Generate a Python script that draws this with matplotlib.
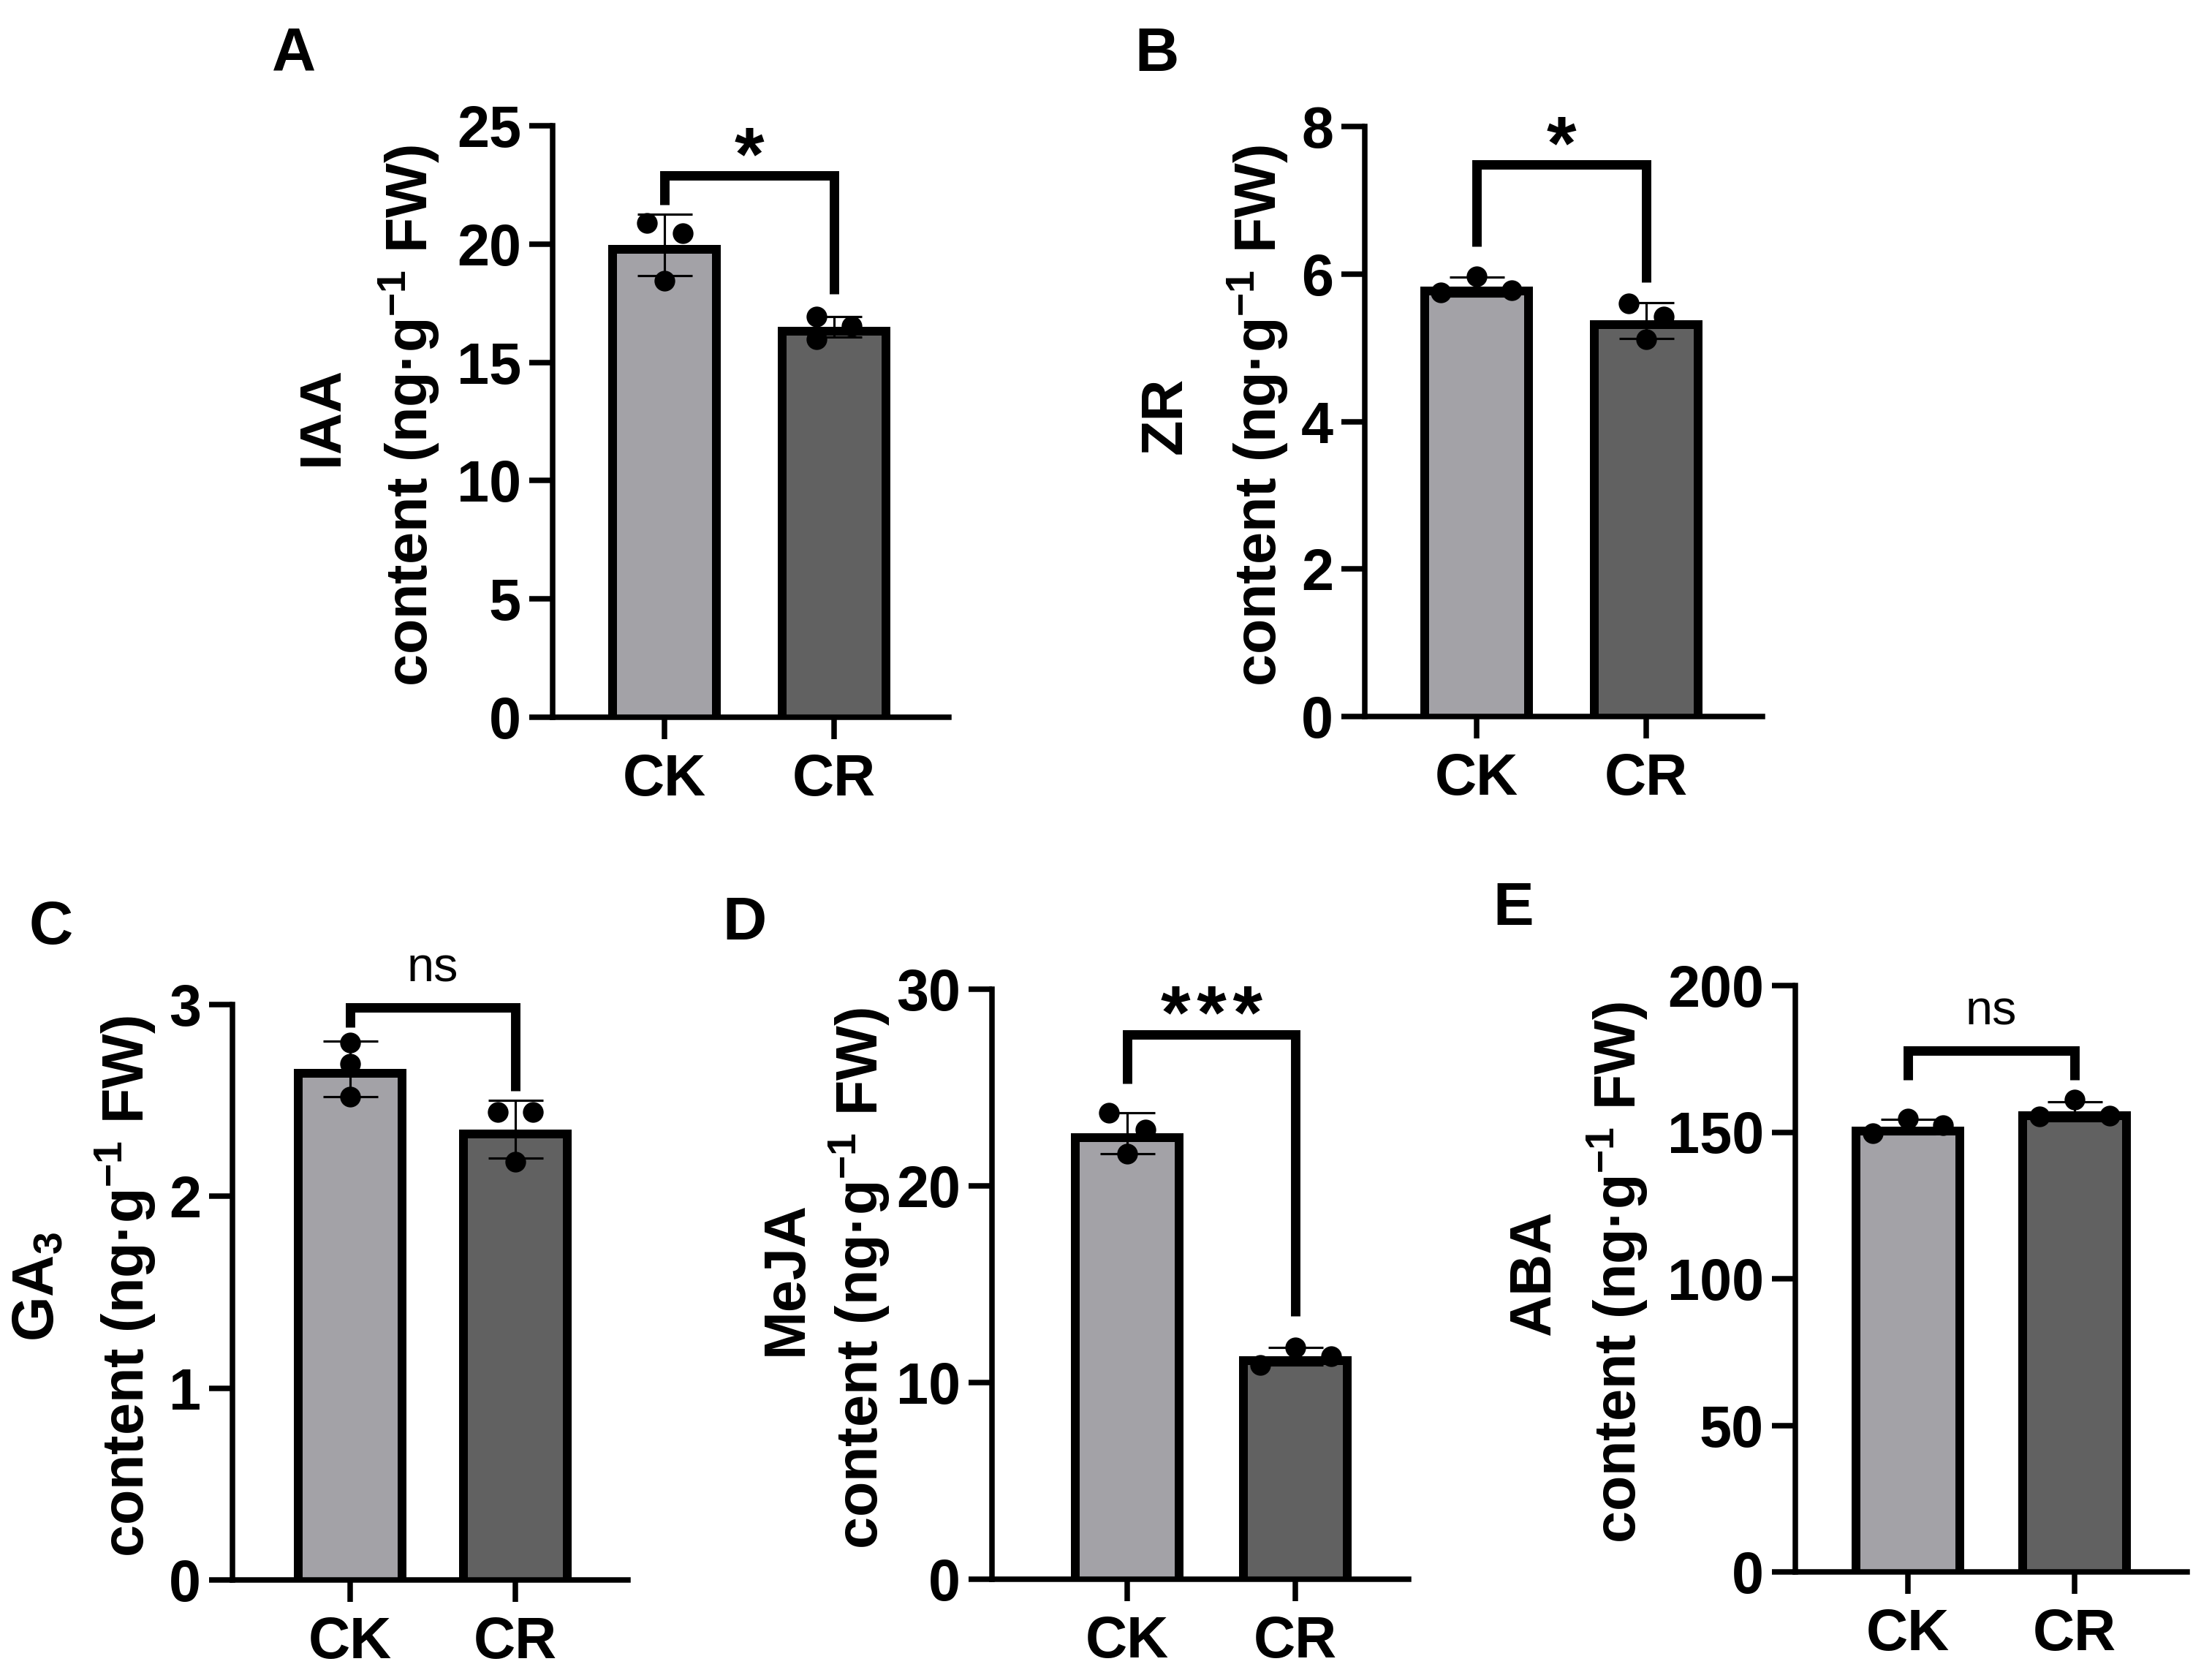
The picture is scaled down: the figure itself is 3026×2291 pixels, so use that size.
import matplotlib
matplotlib.use("Agg")
import matplotlib.pyplot as plt
from matplotlib.patches import Rectangle
import numpy as np

plt.rcParams['font.family'] = ['Liberation Sans', 'DejaVu Sans']
plt.rcParams['mathtext.fontset'] = 'custom'
plt.rcParams['mathtext.rm'] = 'Liberation Sans:bold'
plt.rcParams['mathtext.bf'] = 'Liberation Sans:bold'
plt.rcParams['mathtext.it'] = 'Liberation Sans:bold'
plt.rcParams['mathtext.sf'] = 'Liberation Sans:bold'

# ---------------- data ----------------
groups = ['CK', 'CR']
panel_letters = ['A', 'B', 'C', 'D', 'E']
hormones = ['IAA', 'ZR', 'GA$_3$', 'MeJA', 'ABA']
unit_label = 'content (ng·g$^{-1}$ FW)'

means_A = [19.96, 16.50]
sds_A = [1.30, 0.43]
pts_A_CK = [20.89, 20.46, 18.45]
pts_A_CR = [16.93, 16.53, 15.98]

means_B = [5.83, 5.37]
sds_B = [0.13, 0.24]
pts_B_CK = [5.97, 5.75, 5.78]
pts_B_CR = [5.60, 5.42, 5.12]

means_C = [2.665, 2.35]
sds_C = [0.145, 0.15]
pts_C_CK = [2.80, 2.69, 2.52]
pts_C_CR = [2.44, 2.44, 2.18]

means_D = [22.68, 11.34]
sds_D = [1.03, 0.46]
pts_D_CK = [23.72, 22.86, 21.64]
pts_D_CR = [11.78, 11.34, 10.89]

means_E = [151.9, 157.1]
sds_E = [2.5, 3.2]
pts_E_CK = [149.6, 154.6, 152.4]
pts_E_CR = [155.4, 161.1, 155.6]

yticks_A = [0, 5, 10, 15, 20, 25]
yticks_B = [0, 2, 4, 6, 8]
yticks_C = [0, 1, 2, 3]
yticks_D = [0, 10, 20, 30]
yticks_E = [0, 50, 100, 150, 200]

signif = ['*', '*', 'ns', '***', 'ns']
# bracket: [left leg bottom, top, right leg bottom]
bracket_A = [21.66, 22.9, 17.9]
bracket_B = [6.37, 7.48, 5.89]
bracket_C = [2.88, 2.985, 2.55]
bracket_D = [25.2, 27.7, 13.4]
bracket_E = [167.8, 177.8, 167.8]

# ---------------- layout (pixels of the 3026x2291 image) ----------------
W, H = 3026, 2291
DPI = 300
fig = plt.figure(figsize=(W / DPI, H / DPI), dpi=DPI)
fig.patch.set_facecolor('white')

layout = {
    'A': dict(l=756, r=1298, t=172, b=981, ck=909, cr=1141,
              lab1=441, lab2=560, letter=(402, 97),
              jit=[[-24, 25, 0], [-24, 24, -24]]),
    'B': dict(l=1867, r=2411, t=173, b=980, ck=2020, cr=2252,
              lab1=1595, lab2=1721, letter=(1583, 97),
              jit=[[0, -49, 48], [-24, 24, 0]]),
    'C': dict(l=318, r=859, t=1374, b=2161, ck=479, cr=705,
              lab1=52, lab2=172, letter=(70, 1291),
              jit=[[0, 0, 0], [-24, 24, 0]]),
    'D': dict(l=1357, r=1927, t=1353, b=2160, ck=1542, cr=1772,
              lab1=1076, lab2=1176, letter=(1018, 1285),
              jit=[[-25, 25, 0], [0, 49, -48]]),
    'E': dict(l=2456, r=2992, t=1348, b=2150, ck=2610, cr=2838,
              lab1=2100, lab2=2213, letter=(2070, 1265),
              jit=[[-48, 0, 48], [-48, 0, 48]]),
}

panels = [
    ('A', means_A, sds_A, [pts_A_CK, pts_A_CR], yticks_A, bracket_A),
    ('B', means_B, sds_B, [pts_B_CK, pts_B_CR], yticks_B, bracket_B),
    ('C', means_C, sds_C, [pts_C_CK, pts_C_CR], yticks_C, bracket_C),
    ('D', means_D, sds_D, [pts_D_CK, pts_D_CR], yticks_D, bracket_D),
    ('E', means_E, sds_E, [pts_E_CK, pts_E_CR], yticks_E, bracket_E),
]

colors = ['#a3a2a7', '#616161']
FS = 19
SPINE_LW = 1.8
BAR_EDGE_PX = 12
BAR_OUTER_PX = 154

for i, (key, means, sds, pts, yticks, br) in enumerate(panels):
    L = layout[key]
    sp = L['cr'] - L['ck']
    ax = fig.add_axes([L['l'] / W, 1 - L['b'] / H, (L['r'] - L['l']) / W, (L['b'] - L['t']) / H])
    ax.set_xlim((L['l'] - L['ck']) / sp, (L['r'] - L['ck']) / sp)
    ax.set_ylim(0, yticks[-1])
    x = np.arange(len(groups))
    ypp = yticks[-1] / (L['b'] - L['t'])  # data units per pixel
    bw = BAR_OUTER_PX / sp
    below = 16 * ypp
    bars = ax.bar(x, np.array(means) + below, bottom=-below, width=bw, color=colors,
                  edgecolor='black', linewidth=2 * BAR_EDGE_PX * 72 / DPI, zorder=2)
    for p, m in zip(bars.patches, means):
        clip = Rectangle((p.get_x(), 0), p.get_width(), m, transform=ax.transData)
        p.set_clip_path(clip)
    ax.errorbar(x, means, yerr=sds, fmt='none', ecolor='black', elinewidth=0.75,
                capsize=9, capthick=0.75, zorder=3)
    for g in range(len(groups)):
        xs = g + np.array(L['jit'][g]) / sp
        ax.plot(xs, pts[g], 'o', color='black', ms=5.8, zorder=4, clip_on=False)

    # bracket
    ax.plot([0, 0, 1, 1], [br[0], br[1], br[1], br[2]], color='black', lw=3.1,
            solid_joinstyle='miter', solid_capstyle='butt', clip_on=False, zorder=5)
    s = signif[i]
    if s == 'ns':
        ax.annotate(s, xy=(0.5, br[1]), xytext=(0, 8.5), textcoords='offset points',
                    ha='center', va='baseline', fontsize=16, fontweight='normal')
    else:
        ax.annotate('\u200a'.join(s), xy=(0.5, br[1]), xytext=(0, -1.5), textcoords='offset points',
                    ha='center', va='baseline', fontsize=25, fontweight='bold')

    # axes styling
    for side in ['top', 'right']:
        ax.spines[side].set_visible(False)
    for side in ['left', 'bottom']:
        ax.spines[side].set_linewidth(SPINE_LW)
        ax.spines[side].set_capstyle('projecting')
        ax.spines[side].set_zorder(6)
    ax.set_yticks(yticks)
    ax.set_yticklabels([str(v) for v in yticks], fontsize=FS, fontweight='bold')
    ax.set_xticks(x)
    ax.set_xticklabels(groups, fontsize=FS, fontweight='bold')
    ax.tick_params(axis='y', length=7.8, width=SPINE_LW, pad=2.5)
    ax.tick_params(axis='x', length=7.3, width=SPINE_LW, pad=4.5)
    ax.set_facecolor('none')

    # y labels (two lines)
    yc = (L['t'] + L['b']) / 2 - 8
    fig.text(L['lab1'] / W, 1 - yc / H, hormones[i], rotation=90, ha='center', va='center',
             fontsize=FS, fontweight='bold')
    fig.text(L['lab2'] / W, 1 - yc / H, unit_label, rotation=90, ha='center', va='center',
             fontsize=FS, fontweight='bold')
    # panel letter
    lx, ly = L['letter']
    fig.text(lx / W, 1 - ly / H, panel_letters[i], ha='center', va='baseline',
             fontsize=20, fontweight='bold')

fig.savefig('out.png', dpi=DPI, facecolor='white')
